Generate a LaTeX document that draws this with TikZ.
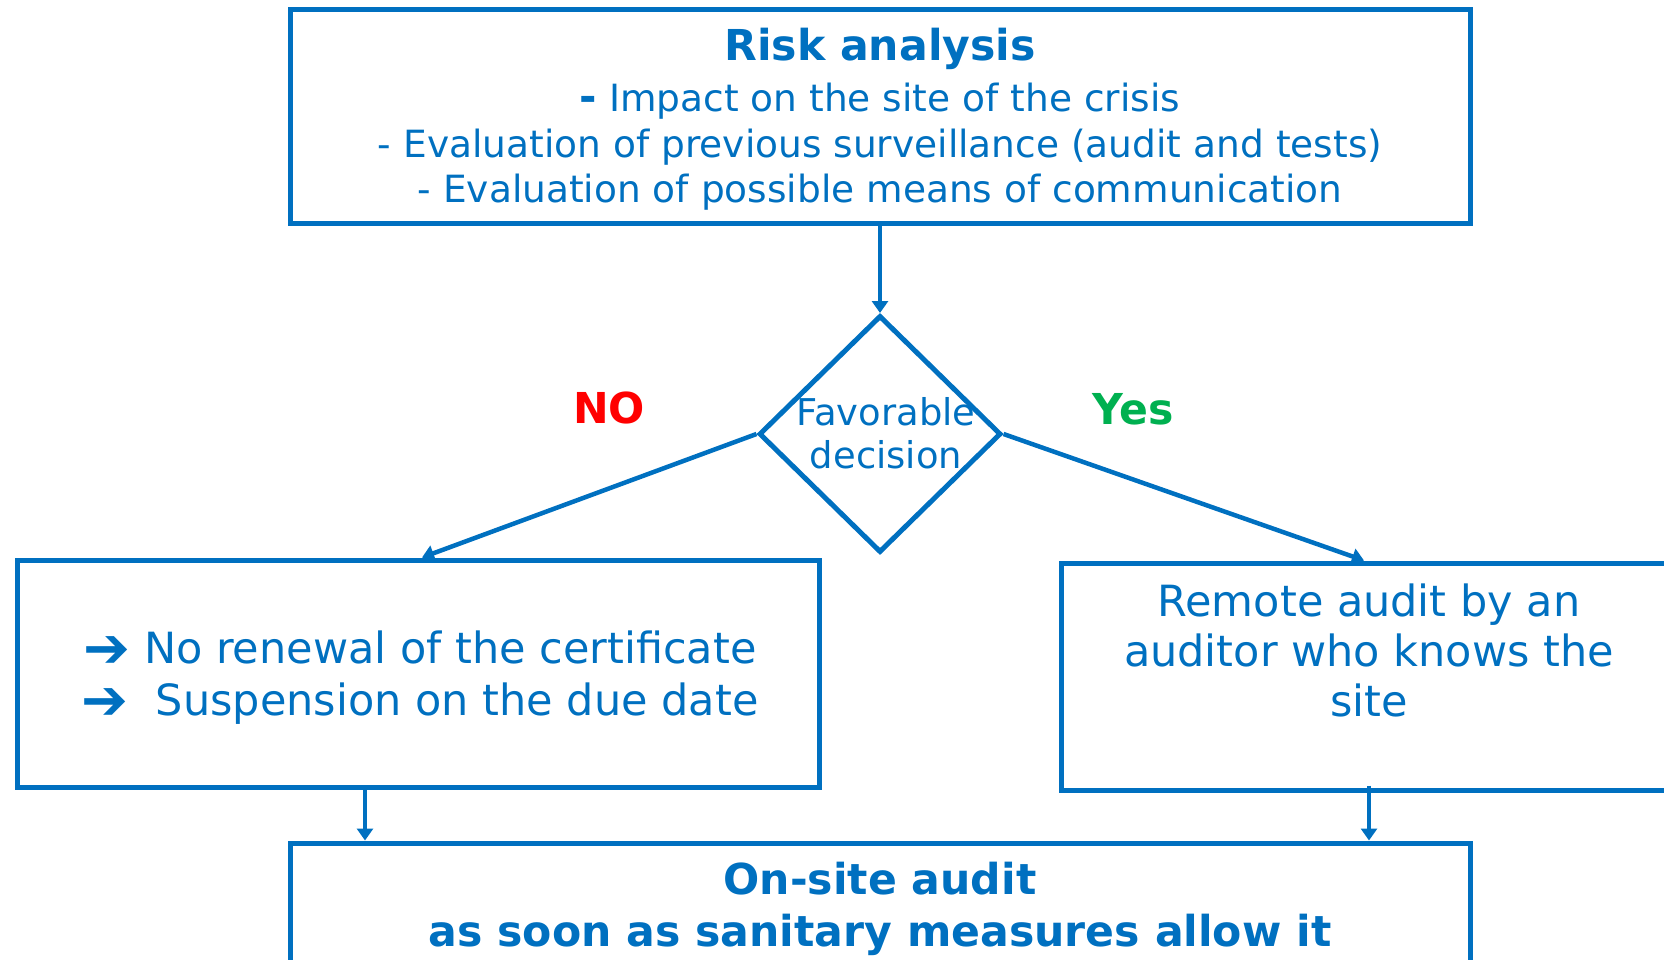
\documentclass[tikz,border=0pt]{standalone}
\usepackage{fontspec}
\setmainfont{DejaVu Sans}
\usetikzlibrary{shapes.geometric,arrows.meta}
\definecolor{cblue}{HTML}{0070C0}
\definecolor{cred}{HTML}{FF0000}
\definecolor{cgreen}{HTML}{00B050}
\newcommand\fsz[1]{\fontsize{#1}{#1}\selectfont}
\newcommand\bigarrow{\raisebox{-4pt}{\fsz{56}\bfseries ➔}}
\begin{document}
\begin{tikzpicture}[x=1pt,y=-1pt,
  box/.style={draw=cblue, line width=5pt, rectangle, inner sep=0pt},
  dia/.style={draw=cblue, line width=5pt, diamond, inner sep=0pt},
  arr/.style={draw=cblue, line width=4.5pt, -{Triangle[length=12pt,width=16pt]}},
  txt/.style={text=cblue, anchor=base, inner sep=0pt},
  body/.style={txt, font=\fsz{37.5}},
  big/.style={txt, font=\fsz{43}},
  hd/.style={txt, font=\bfseries\fsz{42.6}},
]
\useasboundingbox (0,0) rectangle (1664,960);
\clip (0,0) rectangle (1664,960);

% boxes
\node[box, minimum width=1180pt, minimum height=213pt] (risk) at (880,116.5) {};
\node[dia, minimum width=242pt, minimum height=237pt] (dec) at (880,434) {};
\node[box, minimum width=802pt, minimum height=227pt] (nogo) at (418,673.5) {};
\node[box, minimum width=616pt, minimum height=227pt] (remote) at (1369,676.5) {};
\node[box, minimum width=1180pt, minimum height=167pt] (final) at (880,926.5) {};

% texts: risk analysis
\node[hd] (t1) at (880,61) {Risk analysis};
\node[body] (t2) at (880,112) {{\bfseries\fsz{42}-} Impact on the site of the crisis};
\node[body] (t3) at (880,158) {- Evaluation of previous surveillance (audit and tests)};
\node[body] (t4) at (880,203) {- Evaluation of possible means of communication};

% decision
\node[txt, font=\fsz{36.9}] (d1) at (886,425) {Favorable};
\node[txt, font=\fsz{36.9}] (d2) at (886,468) {decision};
\node[hd, text=cred] (no) at (609,423) {NO};
\node[hd, text=cgreen] (yes) at (1133,424) {Yes};

% left box
\node[big] (l1) at (420,663) {\bigarrow\ No renewal of the certificate};
\node[big] (l2) at (420,715) {\bigarrow\ \ Suspension on the due date};

% right box
\node[big] (r1) at (1369,616) {Remote audit by an};
\node[big] (r2) at (1369,666) {auditor who knows the};
\node[big] (r3) at (1369,716) {site};

% bottom box
\node[hd] (b1) at (880,894) {On-site audit};
\node[hd] (b2) at (880,946) {as soon as sanitary measures allow it};

% connectors
\draw[arr] (risk.south) -- (dec.north);
\draw[arr] (dec.west) -- ([xshift=4pt]nogo.north);
\draw[arr] (dec.east) -- ([xshift=-5pt]remote.north);
\draw[arr] ([xshift=-53pt]nogo.south) -- ([xshift=-53pt]nogo.south |- final.north);
\draw[arr] ([yshift=7pt]remote.south) -- (remote.south |- final.north);
\end{tikzpicture}
\end{document}
